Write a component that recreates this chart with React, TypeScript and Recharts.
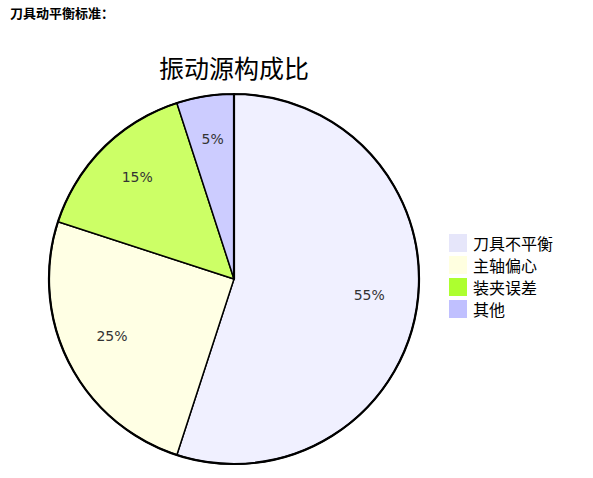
import React from "react";
import { PieChart, Pie, Cell, Legend } from "recharts";

// 振动源构成比 데이터
const sources = ["刀具不平衡", "主轴偏心", "装夹误差", "其他"];
const shares = [55, 25, 15, 5];
const sliceColors = ["#f0f0ff", "#ffffe4", "#ccff66", "#ccccff"];
const legendColors = ["#e6e6fa", "#ffffe0", "#adff2f", "#c0c0ff"];

const data = sources.map((name, i) => ({ name, value: shares[i] }));

const RAD = Math.PI / 180;

function renderLabel(props: any) {
  const { cx, cy, midAngle, outerRadius, value } = props;
  const r = outerRadius * 0.74;
  const x = cx + r * Math.cos(-midAngle * RAD);
  const y = cy + r * Math.sin(-midAngle * RAD);
  return (
    <text x={x} y={y} textAnchor="middle" fill="#333" fontSize={14} fontFamily="DejaVu Sans">
      {value}%
    </text>
  );
}

function renderLegend() {
  return (
    <div style={{ fontFamily: "Noto Sans CJK SC", fontSize: 16, color: "#000" }}>
      {sources.map((name, i) => (
        <div key={name} style={{ display: "flex", alignItems: "center", height: 22 }}>
          <span
            style={{ width: 18, height: 18, background: legendColors[i], marginRight: 6, display: "inline-block" }}
          />
          <span>{name}</span>
        </div>
      ))}
    </div>
  );
}

export default function App() {
  return (
    <div style={{ position: "absolute", left: 0, top: 0, width: 593, height: 478, background: "#fff" }}>
      <div
        style={{
          position: "absolute",
          left: 10,
          top: 3,
          fontSize: 13,
          fontWeight: "bold",
          fontFamily: "Noto Sans CJK SC",
        }}
      >
        刀具动平衡标准：
      </div>
      <div
        style={{
          position: "absolute",
          left: 0,
          width: 468,
          top: 49,
          textAlign: "center",
          fontSize: 25,
          fontFamily: "Noto Sans CJK SC",
        }}
      >
        振动源构成比
      </div>
      <div style={{ position: "absolute", left: 0, top: 0 }}>
        <PieChart width={593} height={478} margin={{ top: 0, right: 0, bottom: 0, left: 0 }}>
          <Pie
            data={data}
            dataKey="value"
            nameKey="name"
            cx={234}
            cy={279}
            outerRadius={185}
            startAngle={90}
            endAngle={-270}
            stroke="#000"
            strokeWidth={1.5}
            label={renderLabel}
            labelLine={false}
            isAnimationActive={false}
          >
            {data.map((d, i) => (
              <Cell key={d.name} fill={sliceColors[i]} />
            ))}
          </Pie>
          <Pie
            data={[{ value: 1 }]}
            dataKey="value"
            cx={234}
            cy={279}
            outerRadius={185}
            startAngle={90}
            endAngle={-270}
            fill="none"
            stroke="#000"
            strokeWidth={2.2}
            isAnimationActive={false}
          />
          <Legend
            layout="vertical"
            content={renderLegend}
            wrapperStyle={{ left: 449, top: 232, width: 140 }}
          />
        </PieChart>
      </div>
    </div>
  );
}
